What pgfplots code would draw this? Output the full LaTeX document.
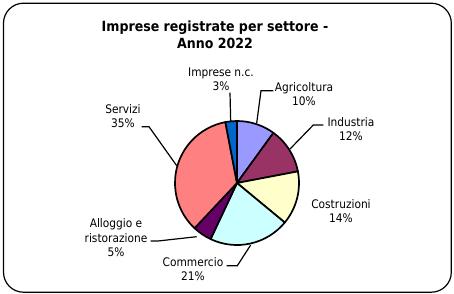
\documentclass[border=0pt]{standalone}
\usepackage{fontspec}
\setmainfont{DejaVu Sans Condensed}
\usepackage{pgfplots}
\pgfplotsset{compat=1.18}
\definecolor{agri}{HTML}{9999FF}
\definecolor{ind}{HTML}{993366}
\definecolor{cost}{HTML}{FFFFCC}
\definecolor{comm}{HTML}{CCFFFF}
\definecolor{allog}{HTML}{660066}
\definecolor{serv}{HTML}{FF8080}
\definecolor{impr}{HTML}{0066CC}
% #1 cumulative start (%), #2 share (%), #3 colour
\newcommand{\pieslice}[3]{%
  \filldraw[fill=#3, draw=black, line width=1.7pt, line join=round]
    (axis cs:237,110) -- ++({90-3.6*#1}:62pt)
    arc[start angle={90-3.6*#1}, end angle={90-3.6*(#1+#2)}, radius=62pt] -- cycle;}
\begin{document}
\begin{tikzpicture}
\begin{axis}[
  x=1pt, y=1pt, xmin=0, xmax=454, ymin=0, ymax=293,
  hide axis, clip=false, scale only axis,
]
\path (axis cs:0,0) rectangle (axis cs:454,293);
\draw[line width=1.2pt, rounded corners=20pt] (axis cs:3.5,0.8) rectangle (axis cs:451.3,289.8);
\node[align=center, font=\bfseries\fontsize{14}{17}\selectfont] at (axis cs:215,258.5) {Imprese registrate per settore -\\Anno 2022};
% slices: Agricoltura 10, Industria 12, Costruzioni 14, Commercio 21, Alloggio 5, Servizi 35, Imprese n.c. 3
\pieslice{0}{10}{agri}
\pieslice{10}{12}{ind}
\pieslice{22}{14}{cost}
\pieslice{36}{21}{comm}
\pieslice{57}{5}{allog}
\pieslice{62}{35}{serv}
\pieslice{97}{3}{impr}
% leader lines
\begin{scope}[line width=1.2pt]
\draw (axis cs:230,200.3) -- (axis cs:230.7,171);
\draw (axis cs:273.3,202.3) -- (axis cs:261,202.3) -- (axis cs:256.7,170);
\draw (axis cs:323.3,168) -- (axis cs:313.3,168) -- (axis cs:290,144);
\draw (axis cs:226.7,27.3) -- (axis cs:237.3,27.3) -- (axis cs:250.7,48);
\draw (axis cs:150.5,52) -- (axis cs:158,52) -- (axis cs:196.7,56.3);
\draw (axis cs:141.7,166.3) -- (axis cs:149,166.3) -- (axis cs:176.7,127.3);
\end{scope}
% labels
\begin{scope}[every node/.style={align=center, font=\fontsize{11.8}{14.5}\selectfont, inner sep=0pt}]
\node at (axis cs:221,213.5) {Imprese n.c.\\3\%};
\node at (axis cs:304,199) {Agricoltura\\10\%};
\node at (axis cs:351,164) {Industria\\12\%};
\node at (axis cs:341,82) {Costruzioni\\14\%};
\node at (axis cs:193,24) {Commercio\\21\%};
\node at (axis cs:116,55.4) {Alloggio e\\ristorazione\\5\%};
\node at (axis cs:123,177) {Servizi\\35\%};
\end{scope}
\end{axis}
\end{tikzpicture}
\end{document}
